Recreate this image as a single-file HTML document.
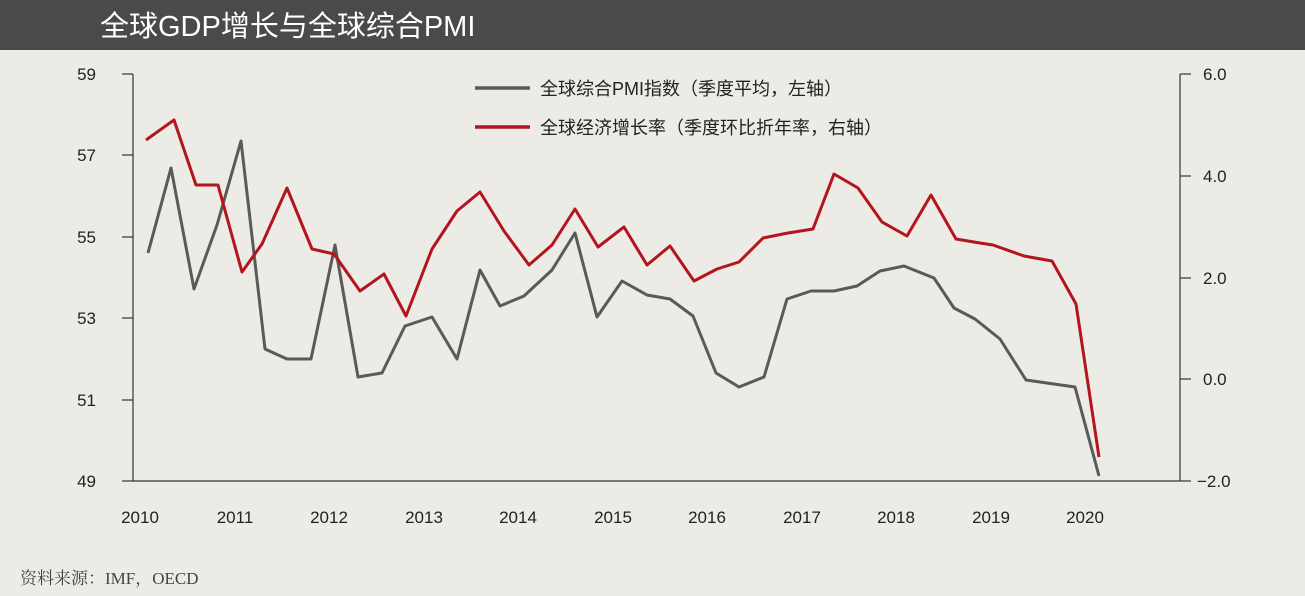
<!DOCTYPE html>
<html><head><meta charset="utf-8"><style>
body{margin:0;width:1305px;height:596px;background:#edebe6;overflow:hidden;font-family:"Liberation Sans","Noto Sans CJK SC",sans-serif}
</style></head><body>
<svg width="1305" height="596" xmlns="http://www.w3.org/2000/svg" style="position:absolute;left:0;top:0">
<rect x="0" y="0" width="1305" height="50" fill="#4a4a4a"/>
<text x="100" y="36" font-size="29" fill="#fff" font-family="Liberation Sans,Noto Sans CJK SC,sans-serif">全球GDP增长与全球综合PMI</text>
<g stroke="#333" stroke-width="1.2" fill="none">
<line x1="133" y1="74" x2="133" y2="481"/>
<line x1="133" y1="481" x2="1180" y2="481"/>
<line x1="1180" y1="74" x2="1180" y2="481"/>
<line x1="122" y1="74" x2="133" y2="74"/><line x1="122" y1="155" x2="133" y2="155"/><line x1="122" y1="237" x2="133" y2="237"/><line x1="122" y1="318" x2="133" y2="318"/><line x1="122" y1="400" x2="133" y2="400"/><line x1="122" y1="481" x2="133" y2="481"/>
<line x1="1180" y1="74" x2="1191" y2="74"/><line x1="1180" y1="176" x2="1191" y2="176"/><line x1="1180" y1="278" x2="1191" y2="278"/><line x1="1180" y1="379" x2="1191" y2="379"/><line x1="1180" y1="481" x2="1191" y2="481"/>
</g>
<g font-size="17" fill="#222" text-anchor="end">
<text x="96" y="80">59</text><text x="96" y="161">57</text><text x="96" y="243">55</text><text x="96" y="324">53</text><text x="96" y="406">51</text><text x="96" y="487">49</text>
</g>
<g font-size="17" fill="#222">
<text x="1203" y="80">6.0</text><text x="1203" y="182">4.0</text><text x="1203" y="284">2.0</text><text x="1203" y="385">0.0</text><text x="1197" y="487">−2.0</text>
</g>
<g font-size="17" fill="#222" text-anchor="middle">
<text x="140" y="523">2010</text><text x="235" y="523">2011</text><text x="329" y="523">2012</text><text x="424" y="523">2013</text><text x="518" y="523">2014</text><text x="613" y="523">2015</text><text x="707" y="523">2016</text><text x="802" y="523">2017</text><text x="896" y="523">2018</text><text x="991" y="523">2019</text><text x="1085" y="523">2020</text>
</g>
<line x1="475" y1="88" x2="530" y2="88" stroke="#5a5a58" stroke-width="3.5"/>
<text x="540" y="95" font-size="18" fill="#222">全球综合PMI指数（季度平均，左轴）</text>
<line x1="475" y1="127" x2="530" y2="127" stroke="#b3151d" stroke-width="3.5"/>
<text x="540" y="134" font-size="18" fill="#222">全球经济增长率（季度环比折年率，右轴）</text>
<polyline fill="none" stroke="#5a5a58" stroke-width="3" stroke-linejoin="round" points="148,253 171,168 194,289 217,225 241,141 265,349 287,359 311,359 335,245 358,377 382,373 405,326 432,317 457,359 480,270 500,306 524,296 552,270 575,233 597,317 622,281 647,295 670,299 693,316 716,373 739,387 764,377 787,299 811,291 834,291 857,286 880,271 904,266 934,278 954,308 975,319 1000,339 1026,380 1075,387 1099,476"/>
<polyline fill="none" stroke="#b3151d" stroke-width="3" stroke-linejoin="round" points="146,140 174,120 196,185 218,185 242,272 262,244 287,188 312,249 334,254 360,291 384,274 406,316 432,249 457,211 480,192 504,231 529,265 552,245 575,209 598,247 624,227 647,265 670,246 694,281 717,269 739,262 763,238 788,233 813,229 834,174 858,188 882,222 907,236 931,195 956,239 980,243 993,245 1024,256 1052,261 1076,304 1099,457"/>
<text x="20" y="584" font-size="17" fill="#444" font-family="Liberation Serif,Noto Serif CJK SC,serif">资料来源：IMF，OECD</text>
</svg>
</body></html>
